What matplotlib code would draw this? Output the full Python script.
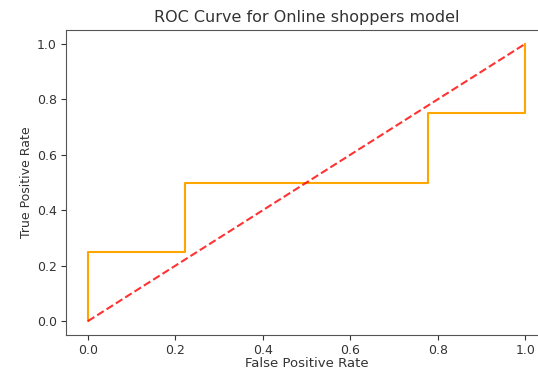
import matplotlib
matplotlib.use("Agg")
import matplotlib.pyplot as plt

# ROC points (step curve)
fpr = [0.0, 0.0, 0.2222, 0.2222, 0.7778, 0.7778, 1.0, 1.0]
tpr = [0.0, 0.25, 0.25, 0.5, 0.5, 0.75, 0.75, 1.0]
diag = [0.0, 1.0]
ticks = [0.0, 0.2, 0.4, 0.6, 0.8, 1.0]

fig = plt.figure(figsize=(5.38, 3.71), dpi=100)
# the original image is cropped on the right, so the axes run past the edge
ax = fig.add_axes([0.1227, 0.097, 0.894, 0.822])
ax.spines["right"].set_visible(False)

ax.plot(fpr, tpr, color="orange", lw=1.5)
ax.plot(diag, diag, color="red", linestyle="--", lw=1.5, alpha=0.8)

ax.set_xticks(ticks)
ax.set_yticks(ticks)
ax.tick_params(labelsize=9, colors="#333333", pad=3)
for s in ax.spines.values():
    s.set_color("#555555")
ax.set_xlabel("False Positive Rate", fontsize=9.5, labelpad=0, color="#333333")
ax.set_ylabel("True Positive Rate", fontsize=9, labelpad=3, color="#333333")
ax.set_title("ROC Curve for Online shoppers model", fontsize=11.5, color="#333333")

fig.savefig("out.png", dpi=100)
